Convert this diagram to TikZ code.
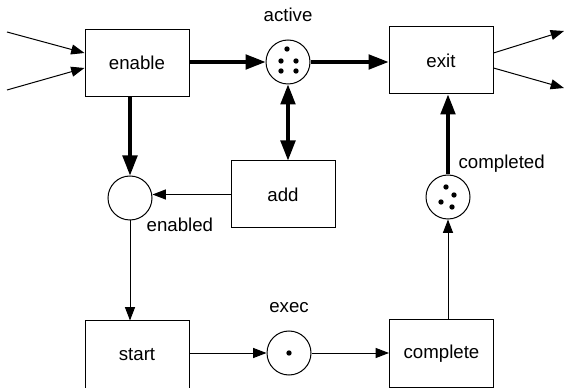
\documentclass[tikz,border=0pt]{standalone}
\usepackage{fontspec}
\setmainfont{Liberation Sans}
\usetikzlibrary{arrows.meta,positioning,calc}

\begin{document}
\begin{tikzpicture}[
    x=0.75pt, y=-0.75pt,
    font=\fontsize{14}{17}\selectfont,
    trans/.style={rectangle, draw, line width=0.75pt, minimum width=78pt,
                  minimum height=50.25pt, inner sep=0pt},
    place/.style={circle, draw, line width=0.75pt, minimum size=33pt, inner sep=0pt},
    flow/.style={-{Triangle[length=10pt,width=7.5pt]}, line width=0.75pt},
    flowbold/.style={-{Triangle[length=15pt,width=11pt]}, line width=2.5pt},
    tok/.style={fill, radius=2pt}
]
\useasboundingbox (0,0) rectangle (564,388);

% transitions
\node[trans] (enable) at (137,63) {enable};
\node[trans] (exit) at (441,60.5) {exit};
\node[trans] (add) at (283,194.5) {add};
\node[trans] (start) at (137,354.5) {start};
\node[trans] (complete) at (441.5,353.5) {complete};

% places
\node[place] (active) at (288,62) {};
\node[place] (enabled) at (130,198) {};
\node[place] (exec) at (289,353) {};
\node[place] (completed) at (448,197) {};

\node[above=10pt of active] (activelbl) {active};
\node[above=10pt of exec] (execlbl) {exec};
\node[below right=-0.75pt and -3pt of enabled] (enabledlbl) {enabled};
\node[above right=3pt and -7.5pt of completed] (completedlbl) {completed};

% tokens
\fill[tok] ($(active)+(-1,-13)$) circle;
\fill[tok] ($(active)+(-7,-1)$) circle;
\fill[tok] ($(active)+(8,-1)$) circle;
\fill[tok] ($(active)+(-7,9)$) circle;
\fill[tok] ($(active)+(8,9)$) circle;
\fill[tok] (exec) circle;
\fill[tok] ($(completed)+(-2,-10)$) circle;
\fill[tok] ($(completed)+(6,-2)$) circle;
\fill[tok] ($(completed)+(-7,5)$) circle;
\fill[tok] ($(completed)+(4,10)$) circle;

% loose ends
\coordinate (in1) at (7,32);
\coordinate (in2) at (7,90);
\coordinate (out1) at (564,31);
\coordinate (out2) at (564,88);

\draw[flow] (in1) -- ($(enable.west)+(0,-10)$);
\draw[flow] (in2) -- ($(enable.west)+(0,5)$);
\draw[flow] ($(exit.east)+(0,-7.5)$) -- (out1);
\draw[flow] ($(exit.east)+(0,7.5)$) -- (out2);

\draw[flowbold] (enable.east |- active) -- (active.west);
\draw[flowbold] (active.east) -- (exit.west |- active);
\draw[flowbold, {Triangle[length=15pt,width=11pt]}-{Triangle[length=15pt,width=11pt]}]
    (active.south) -- (active.south |- add.north);
\draw[flowbold] (enabled |- enable.south) -- (enabled.north);
\draw[flow] (add.west) -- (add.west -| enabled.east);
\draw[flow] (enabled.south) -- (enabled.south |- start.north);
\draw[flow] (start.east |- exec) -- (exec.west);
\draw[flow] (exec.east) -- (exec.east -| complete.west);
\draw[flow] (completed |- complete.north) -- (completed.south);
\draw[flowbold] (completed.north) -- (completed.north |- exit.south);
\end{tikzpicture}
\end{document}
